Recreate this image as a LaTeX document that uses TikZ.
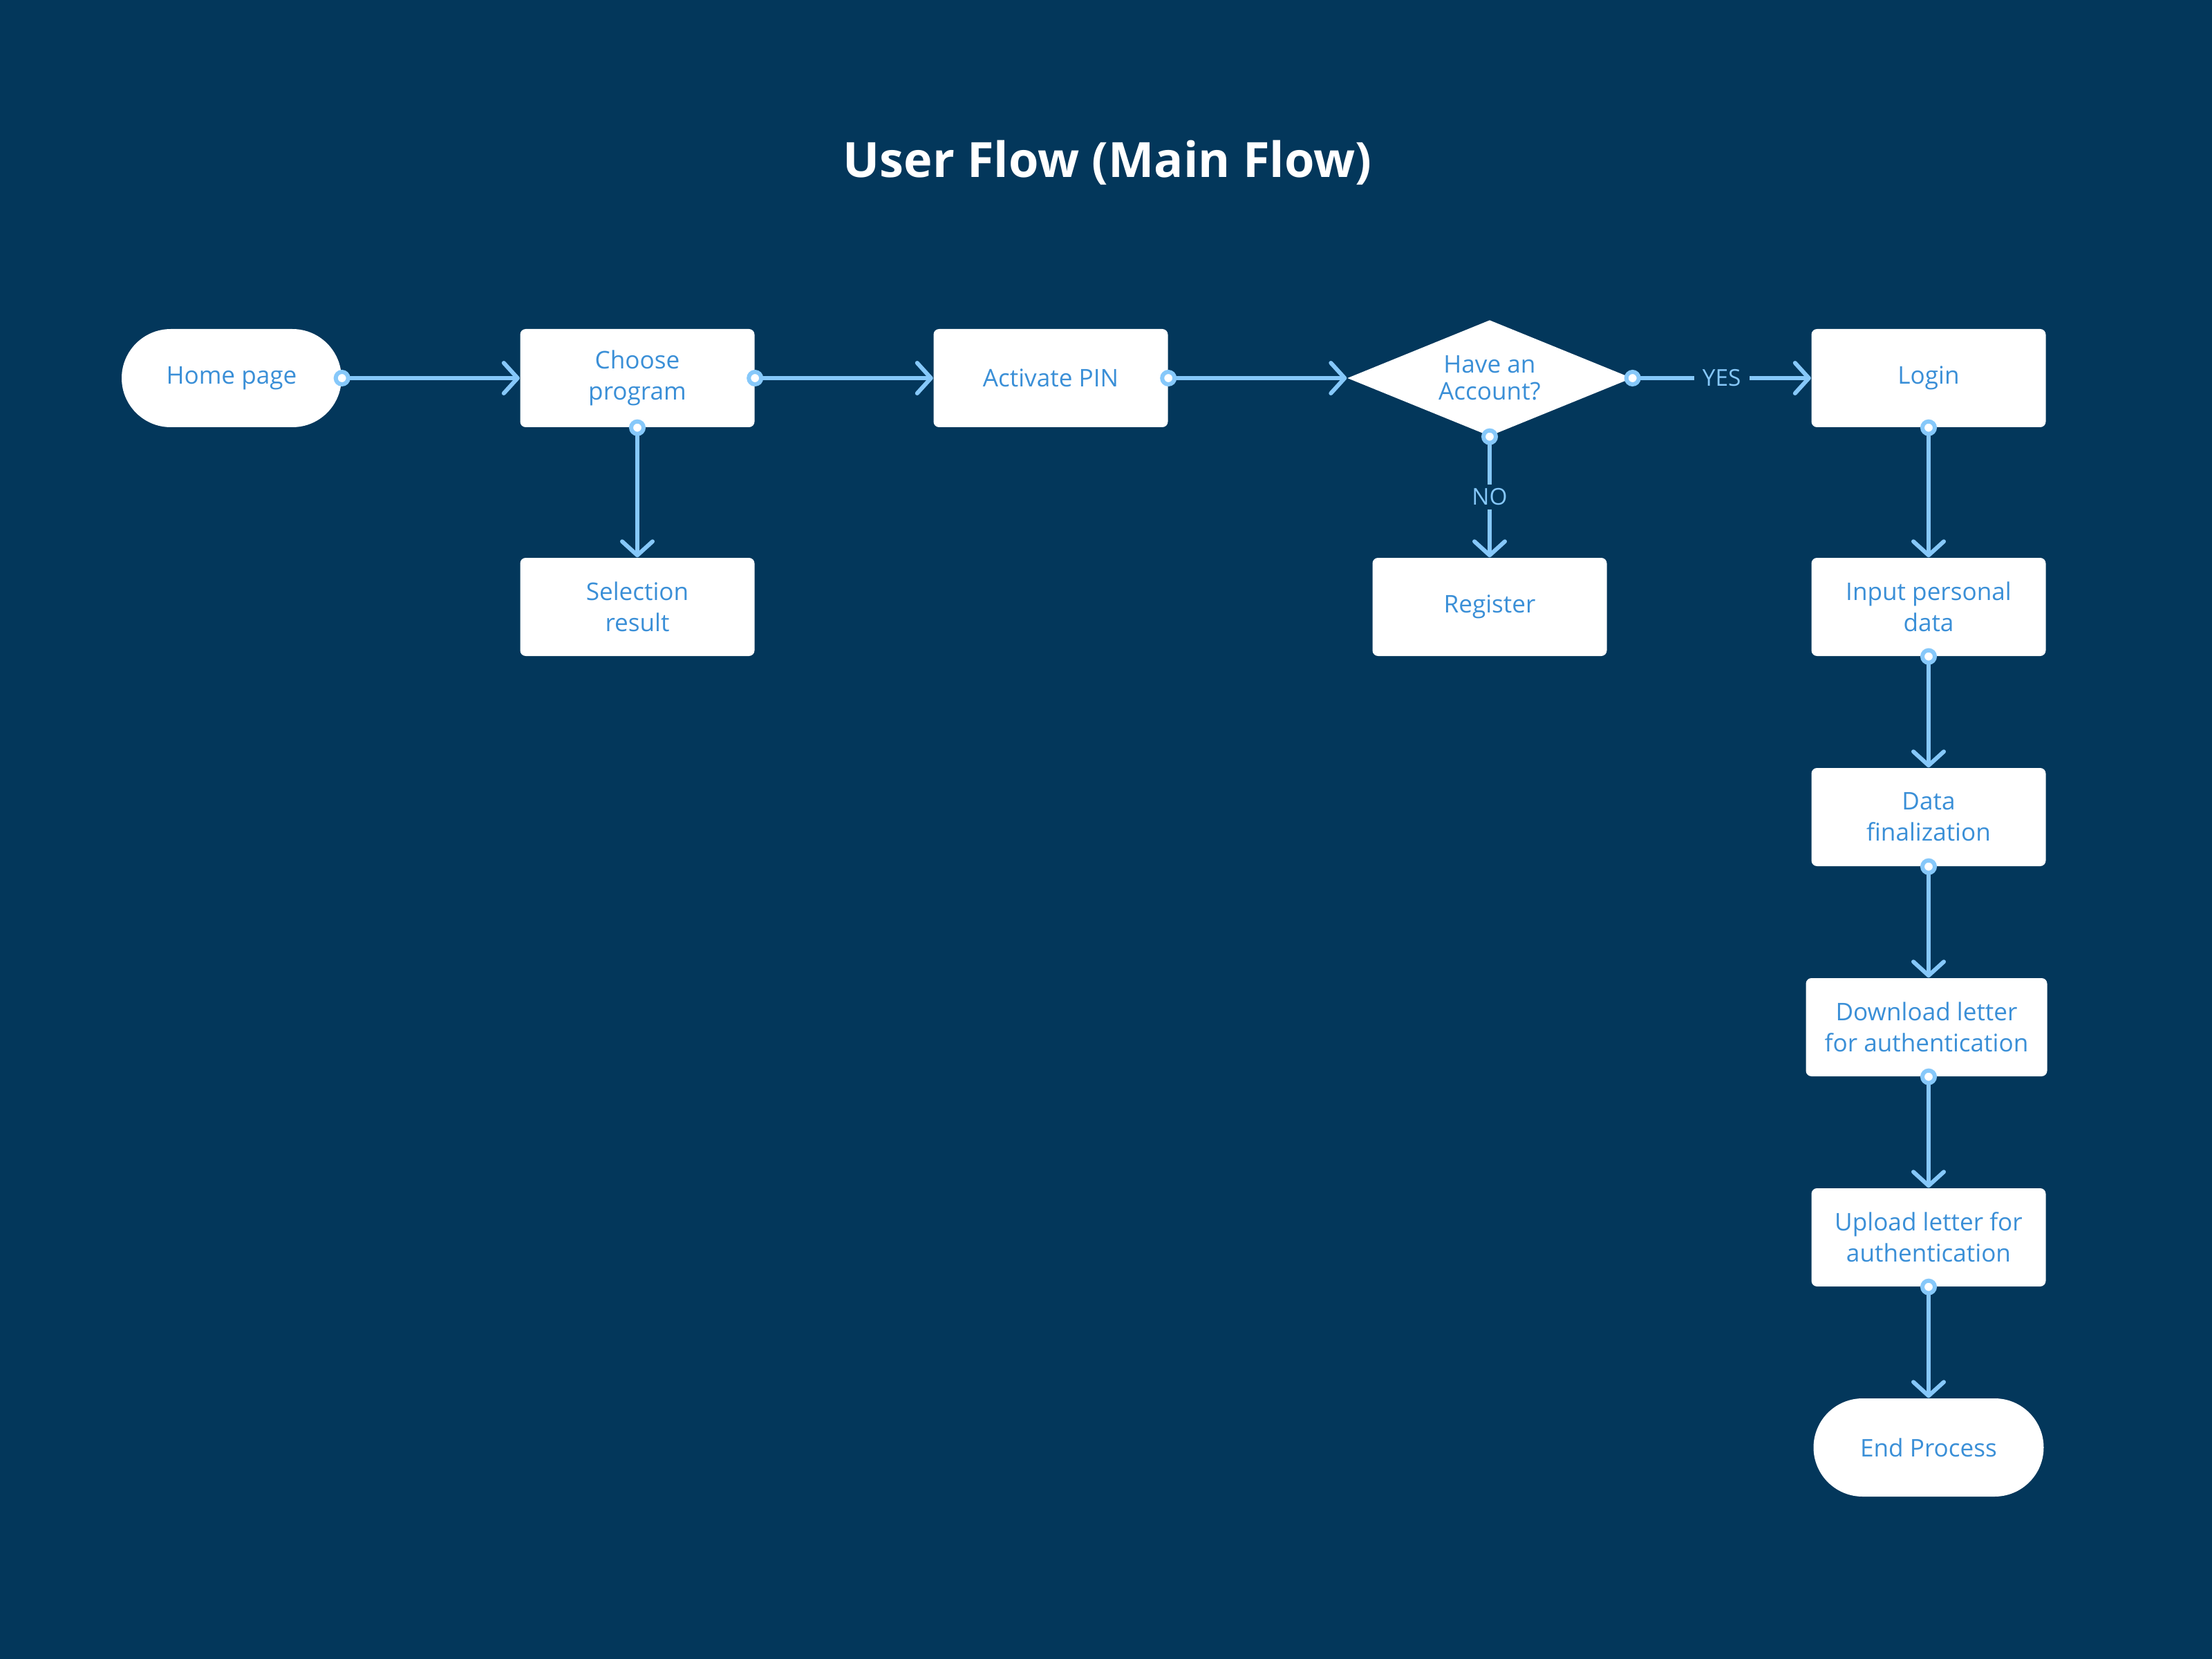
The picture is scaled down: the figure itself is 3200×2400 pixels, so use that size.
\documentclass[tikz,border=0pt]{standalone}
\usepackage{fontspec}
\setmainfont{Open Sans}
\usetikzlibrary{shapes.geometric,arrows.meta}
\definecolor{bgc}{HTML}{03375B}
\definecolor{linec}{HTML}{86C8FA}
\definecolor{txtc}{HTML}{3A8FD7}
\tikzset{
  box/.style={draw=none, fill=white, rounded corners=0.8mm, minimum width=33.9mm, minimum height=14.2mm, inner sep=0pt, align=center, text=txtc, font=\fontsize{10}{12.8}\selectfont},
  pill/.style={box, rounded corners=7.1mm},
  decision/.style={diamond, aspect=2.45, fill=white, minimum width=41.2mm, minimum height=16.8mm, inner sep=0pt, align=center, text=txtc, font=\fontsize{10}{11}\selectfont},
  flow/.style={draw=linec, line width=0.6mm, -{Straight Barb[length=2mm, width=4.4mm, line cap=round, line join=round]}},
  dot/.style={circle, draw=linec, fill=white, line width=0.6mm, minimum size=1.8mm, inner sep=0pt},
  lbl/.style={fill=bgc, text=linec, inner xsep=1.2mm, inner ysep=0.6mm, font=\fontsize{9.5}{10}\selectfont},
}
\begin{document}
\begin{tikzpicture}[x=0.1mm, y=-0.1mm]
\useasboundingbox[fill=bgc] (0,0) rectangle (3200,2400);
\node[text=white, font=\fontsize{20}{24}\selectfont\bfseries] (title) at (1602,235) {User Flow (Main Flow)};

\node[pill, minimum width=31.8mm] (home) at (335,547) {Home page};
\node[box] (choose) at (922,547) {Choose\\program};
\node[box] (pin) at (1520,547) {Activate PIN};
\node[decision] (acc) at (2155,547) {Have an\\Account?};
\node[box] (login) at (2790,547) {Login};
\node[box] (sel) at (922,878) {Selection\\result};
\node[box] (reg) at (2155,878) {Register};
\node[box] (input) at (2790,878) {Input personal\\data};
\node[box] (fin) at (2790,1182) {Data\\finalization};
\node[box, minimum width=34.9mm] (down) at (2787,1486) {Download letter\\for authentication};
\node[box] (up) at (2790,1790) {Upload letter for\\authentication};
\node[pill, minimum width=33.3mm] (end) at (2790,2094) {End Process};

\draw[flow] (home.east) -- (choose.west);
\draw[flow] (choose.east) -- (pin.west);
\draw[flow] (pin.east) -- (acc.west);
\draw[flow] (choose.south) -- (sel.north);
\draw[flow] (acc.east) -- node[lbl] (yes) {YES} (login.west);
\draw[flow] (acc.south) -- node[lbl] (no) {NO} (reg.north);
\draw[flow] (login.south) -- (input.north);
\draw[flow] (input.south) -- (fin.north);
\draw[flow] (fin.south) -- (down.north -| fin.south);
\draw[flow] (down.south -| up.north) -- (up.north);
\draw[flow] (up.south) -- (end.north);

\node[dot] (d1) at (home.east) {};
\node[dot] (d2) at (choose.east) {};
\node[dot] (d3) at (pin.east) {};
\node[dot] (d4) at (choose.south) {};
\node[dot] (d5) at (acc.east) {};
\node[dot] (d6) at (acc.south) {};
\node[dot] (d7) at (login.south) {};
\node[dot] (d8) at (input.south) {};
\node[dot] (d9) at (fin.south) {};
\node[dot] (d10) at (down.south -| up.north) {};
\node[dot] (d11) at (up.south) {};
\end{tikzpicture}
\end{document}
